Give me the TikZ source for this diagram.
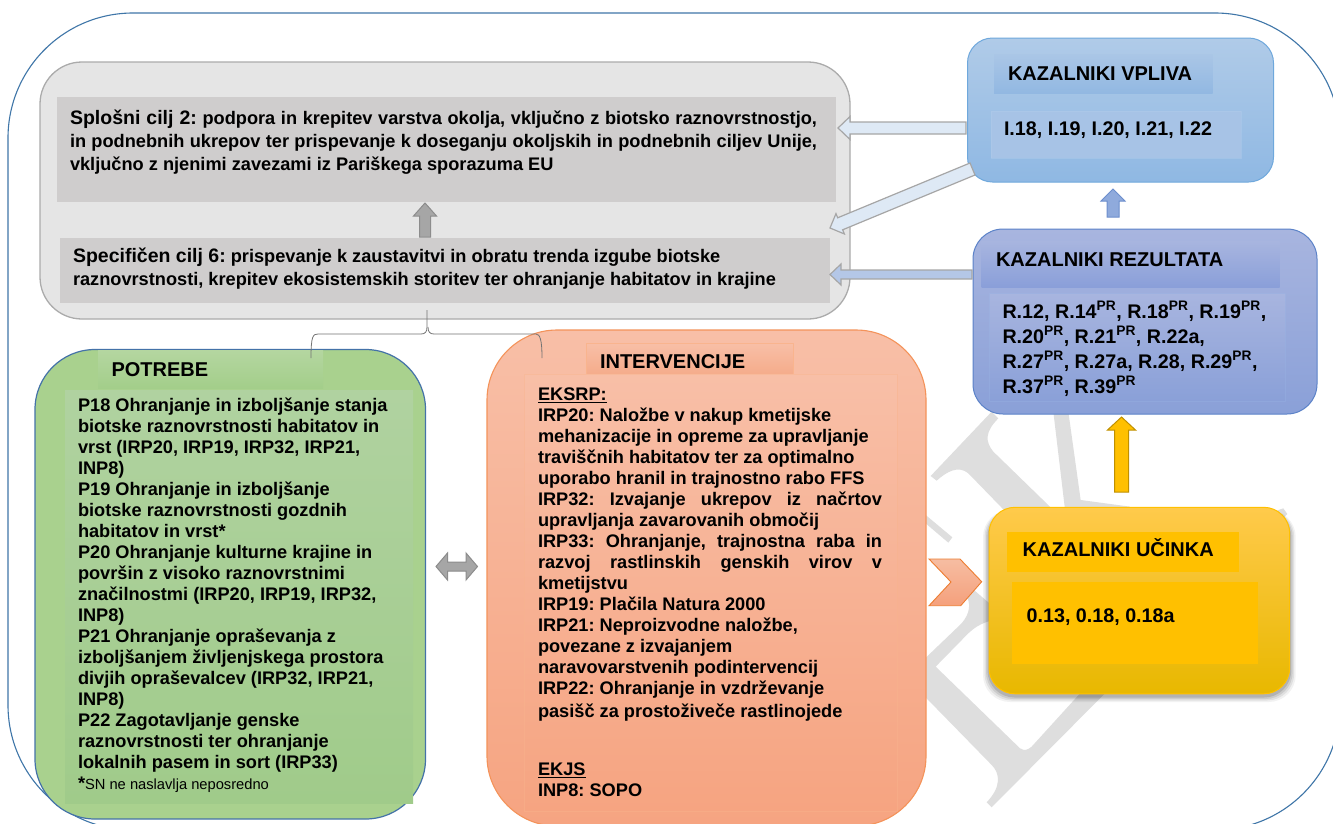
\documentclass[tikz,border=0pt]{standalone}
\usepackage{fontspec}
\setmainfont{Liberation Sans}
\usetikzlibrary{calc}
\frenchspacing
\definecolor{wm}{HTML}{DEDEDE}
\definecolor{frame}{HTML}{3F76A8}
\definecolor{pbdr}{HTML}{F4935A}
\definecolor{pbdrl}{HTML}{F9B48E}
\definecolor{gbdr}{HTML}{4472A8}
\definecolor{vbdr}{HTML}{6FA8DC}
\definecolor{vtop}{HTML}{B0CBE8}
\definecolor{vbot}{HTML}{8FB8E3}
\definecolor{vhtop}{HTML}{AAC6E6}
\definecolor{vhbot}{HTML}{92B8E2}
\definecolor{vbf}{HTML}{A7C3E6}
\definecolor{vbd}{HTML}{AFCBEB}
\definecolor{rbdr}{HTML}{5B82C8}
\definecolor{rtop}{HTML}{A8B5DF}
\definecolor{rbot}{HTML}{8AA0D8}
\definecolor{rhbot}{HTML}{8A9FD9}
\definecolor{rbd}{HTML}{96AFE1}
\definecolor{paleA}{HTML}{DEE9F5}
\definecolor{paleB}{HTML}{B4C7E7}
\definecolor{a5d}{HTML}{6C8ECD}
\definecolor{a5f}{HTML}{8FAADC}
\definecolor{a6d}{HTML}{BF9000}
\definecolor{amber}{HTML}{FFC000}
\definecolor{ytop}{HTML}{FFCA4B}
\definecolor{ybot}{HTML}{E8B800}
\definecolor{gfill}{HTML}{A9D18E}
\definecolor{ghtop}{HTML}{B4D6A0}
\definecolor{ghbot}{HTML}{A3CE8A}
\definecolor{gbtop}{HTML}{B0D2A0}
\definecolor{gbbot}{HTML}{A0CB8A}
\definecolor{ptop}{HTML}{F8BFA7}
\definecolor{pbot}{HTML}{F6A481}
\definecolor{phbot}{HTML}{F5AC8B}
\definecolor{chd}{HTML}{ED7D31}
\definecolor{chtop}{HTML}{F6BDA2}
\definecolor{chbot}{HTML}{F5A07C}
\definecolor{cg}{HTML}{CFCDCD}
\tikzset{
  box/.style={draw,inner sep=0pt,outer sep=0pt,anchor=north west,rounded corners=#1},
  panel/.style={inner sep=0pt,outer sep=0pt,anchor=north west},
  txt/.style={inner sep=0pt,outer sep=0pt,anchor=north west,align=left,font=\fontsize{18.2}{21}\selectfont\bfseries,execute at begin node={\rule{0pt}{18pt}}},
  bigtxt/.style={txt,font=\fontsize{19.7}{25}\selectfont\bfseries},
  headtxt/.style={txt,font=\fontsize{20}{21}\selectfont\bfseries},
  bracket/.style={draw=black!55,line width=0.8pt},
  greyarrow/.style={draw=black!45,fill=black!35,line width=1pt},
  palearrow/.style={draw=black!35,fill=#1,line width=1.2pt},
}
% \blockarrow{style}{from}{to}{half shaft}{half head}{head length}
\newcommand\blockarrow[6]{%
  \coordinate (hb) at ($(#3)!#6!(#2)$);
  \draw[#1,line join=miter] ($(#2)!#4!90:(#3)$) -- ($(hb)!#4!90:(#3)$) -- ($(hb)!#5!90:(#3)$) -- (#3)
    -- ($(hb)!#5!-90:(#3)$) -- ($(hb)!#4!-90:(#3)$) -- ($(#2)!#4!-90:(#3)$) -- cycle;
}
\newcommand\prsup{\textsuperscript{PR}}
\newcommand\jl[1]{\makebox[344pt][s]{#1}}
\newcommand\jw[1]{\makebox[747pt][s]{#1}}
\newcommand\lead[1]{{\fontsize{19.5}{23}\selectfont #1}}
\begin{document}
\begin{tikzpicture}[x=1pt,y=-1pt,line join=round]
\useasboundingbox (0,0) rectangle (1333,823);
\clip (0,0) rectangle (1333,823);
\fill[white] (0,0) rectangle (1333,823);
% watermark
\begin{scope}[shift={(890,390)},x=0.3333pt,y=-0.3333pt]
\fill[wm] (122,258) -- (305,65) -- (325,85) .. controls (285,125) and (285,155) .. (310,185) -- (490,360) -- (400,420) -- (235,250) .. controls (205,225) and (170,245) .. (140,272) -- cycle;
\fill[wm] (490,65) -- (535,65) -- (572,330) -- (720,350) -- (720,400) -- (530,400) -- cycle;
\fill[wm] (95,365) -- (187,442) -- (175,458) -- (95,390) -- cycle;
\fill[wm] (95,815) -- (215,700) .. controls (240,670) and (245,640) .. (225,610) -- (240,590) -- (310,650) -- (310,690) .. controls (270,700) and (250,715) .. (230,735) -- (137,830) -- (390,1075) .. controls (405,1085) and (415,1078) .. (425,1070) -- (575,905) -- (650,905) -- (305,1252) -- (290,1237) .. controls (335,1190) and (330,1150) .. (305,1125) -- (95,910) -- cycle;
\fill[wm] (1160,362) -- (1180,355) -- (1192,372) -- (1180,385) -- cycle;
\end{scope}
% outer frame
\node[box=125pt,draw=frame,line width=1.1pt,minimum width=1332pt,minimum height=817pt] (outer) at (8,13) {};

% grey objectives panel
\node[box=42pt,draw=black!33,fill=black!10,line width=1.3pt,minimum width=810pt,minimum height=257pt] (ciljbox) at (40,62) {};
\node[panel,fill=cg,minimum width=779pt,minimum height=105pt] (cilj2) at (57,97) {};
\node[panel,fill=cg,minimum width=770pt,minimum height=65pt] (cilj6) at (60,237.5) {};
\node[txt] (cilj2t) at (70,109.5) {\jw{\lead{Splošni cilj 2:} podpora in krepitev varstva okolja, vključno z biotsko raznovrstnostjo,}\\[2pt]
\jw{in podnebnih ukrepov ter prispevanje k doseganju okoljskih in podnebnih ciljev Unije,}\\[2pt]
vključno z njenimi zavezami iz Pariškega sporazuma EU};
\node[txt] (cilj6t) at (73,247.5) {\lead{Specifičen cilj 6:} prispevanje k zaustavitvi in obratu trenda izgube biotske\\[2pt]
raznovrstnosti, krepitev ekosistemskih storitev ter ohranjanje habitatov in krajine};
\coordinate (a1s) at (425,237);
\coordinate (a1e) at (425,203);
\blockarrow{greyarrow}{a1s}{a1e}{5.5pt}{11.5pt}{13pt}

% VPLIVA
\node[box=25pt,draw=vbdr,top color=vtop,bottom color=vbot,line width=1pt,minimum width=306pt,minimum height=144pt] (vpliva) at (967.5,38) {};
\node[panel,top color=vhtop,bottom color=vhbot,minimum width=218.5pt,minimum height=39pt] (vplivah) at (994,54) {};
\node[panel,fill=vbf,draw=vbd,draw opacity=.5,minimum width=250pt,minimum height=47pt] (vplivab) at (991,111) {};
\node[headtxt] (vplivat) at (1008,62.5) {KAZALNIKI VPLIVA};
\node[bigtxt] (vplivabt) at (1004,117.5) {I.18, I.19, I.20, I.21, I.22};

% REZULTATA
\node[box=30pt,draw=rbdr,top color=rtop,bottom color=rbot,line width=1pt,minimum width=344pt,minimum height=185pt] (rez) at (973,229) {};
\node[panel,top color=rtop,bottom color=rhbot,minimum width=298pt,minimum height=46pt] (rezh) at (981.5,241) {};
\node[panel,top color=rtop,bottom color=rbot,draw=rbd,draw opacity=.5,minimum width=296.5pt,minimum height=108pt] (rezb) at (989,293) {};
\node[headtxt] (rezt) at (996,248.5) {KAZALNIKI REZULTATA};
\node[bigtxt] (rezbt) at (1002.5,301.5) {R.12, R.14\prsup, R.18\prsup, R.19\prsup,\\
R.20\prsup, R.21\prsup, R.22a,\\
R.27\prsup, R.27a, R.28, R.29\prsup,\\
R.37\prsup, R.39\prsup};

% arrows on the right
\coordinate (a2s) at (966,128);
\coordinate (a2e) at (838,128);
\blockarrow{palearrow=paleA}{a2s}{a2e}{6pt}{11.5pt}{12pt}
\coordinate (a3s) at (972.5,169);
\coordinate (a3e) at (830,228);
\blockarrow{palearrow=paleA}{a3s}{a3e}{6.5pt}{11pt}{11pt}
\coordinate (a4s) at (972,274.5);
\coordinate (a4e) at (830,274.5);
\blockarrow{palearrow=paleB}{a4s}{a4e}{4.5pt}{10.5pt}{11pt}
\coordinate (a5s) at (1113,217);
\coordinate (a5e) at (1113,189);
\blockarrow{draw=a5d,fill=a5f,line width=1pt}{a5s}{a5e}{6pt}{12pt}{12pt}
\coordinate (a6s) at (1121.5,492);
\coordinate (a6e) at (1121.5,417);
\blockarrow{draw=a6d,fill=amber,line width=1pt}{a6s}{a6e}{7pt}{14pt}{13pt}

% UCINKA
\foreach \e/\o in {6/.05,4.5/.07,3/.09,1.5/.12}{
  \fill[black,opacity=\o,rounded corners=27pt] (989-\e,510) rectangle (1289.7+\e,696+\e);
}
\node[box=26pt,draw=amber,top color=ytop,middle color=amber,bottom color=ybot,line width=1pt,minimum width=300.7pt,minimum height=186.5pt] (ucinka) at (989,507.3) {};
\node[panel,fill=amber,minimum width=232pt,minimum height=40pt] (ucinkah) at (1007,531.7) {};
\node[panel,fill=amber,minimum width=246.3pt,minimum height=82pt] (ucinkab) at (1011.7,582) {};
\node[headtxt] (ucinkat) at (1022.7,538.5) {KAZALNIKI UČINKA};
\node[bigtxt] (ucinkabt) at (1026.7,604.5) {0.13, 0.18, 0.18a};

% POTREBE
\node[box=60pt,draw=gbdr,fill=gfill,line width=1.2pt,minimum width=390.5pt,minimum height=469.5pt] (potrebe) at (35,349.5) {};
\node[panel,top color=ghtop,bottom color=ghbot,minimum width=225pt,minimum height=37.5pt] (potrebeh) at (98,350.7) {};
\node[panel,top color=gbtop,bottom color=gbbot,minimum width=348pt,minimum height=413pt] (potrebeb) at (65,390) {};
\node[headtxt] (potrebet) at (111.5,358.5) {POTREBE};
\node[txt] (potrebebt) at (78,397.5) {P18 Ohranjanje in izboljšanje stanja\\
biotske raznovrstnosti habitatov in\\
vrst (IRP20, IRP19, IRP32, IRP21,\\
INP8)\\
P19 Ohranjanje in izboljšanje\\
biotske raznovrstnosti gozdnih\\
habitatov in vrst*\\
P20 Ohranjanje kulturne krajine in\\
površin z visoko raznovrstnimi\\
značilnostmi (IRP20, IRP19, IRP32,\\
INP8)\\
P21 Ohranjanje opraševanja z\\
izboljšanjem življenjskega prostora\\
divjih opraševalcev (IRP32, IRP21,\\
INP8)\\
P22 Zagotavljanje genske\\
raznovrstnosti ter ohranjanje\\
lokalnih pasem in sort (IRP33)\\
*{\fontsize{14.7}{21}\selectfont\mdseries SN ne naslavlja neposredno}};

% INTERVENCIJE
\node[box=70pt,draw=pbdr,top color=ptop,bottom color=pbot,line width=1.1pt,minimum width=439pt,minimum height=496pt] (interv) at (487,330) {};
\node[panel,top color=ptop,bottom color=phbot,draw=pbdrl,minimum width=206.7pt,minimum height=31pt] (intervh) at (586,343) {};
\node[panel,top color=ptop,bottom color=pbot,draw=pbdrl,draw opacity=.45,minimum width=373pt,minimum height=437pt] (intervb) at (524,374) {};
\node[headtxt] (intervt) at (600,350.5) {INTERVENCIJE};
\node[txt] (intervbt) at (538,387.5) {\underline{EKSRP:}\\
IRP20: Naložbe v nakup kmetijske\\
mehanizacije in opreme za upravljanje\\
travišč{}nih habitatov ter za optimalno\\
uporabo hranil in trajnostno rabo FFS\\
\jl{IRP32: Izvajanje ukrepov iz načrtov}\\
upravljanja zavarovanih območij\\
\jl{IRP33: Ohranjanje, trajnostna raba in}\\
\jl{razvoj rastlinskih genskih virov v}\\
kmetijstvu\\
IRP19: Plačila Natura 2000\\
IRP21: Neproizvodne naložbe,\\
povezane z izvajanjem\\
naravovarstvenih podintervencij\\
IRP22: Ohranjanje in vzdrževanje\\[2pt]
pasišč za prostoživeče rastlinojede\\[37pt]
\underline{EKJS}\\
INP8: SOPO};

% double arrow
\coordinate (d1) at (436,566.5);
\coordinate (d2) at (477.5,566.5);
\draw[greyarrow,line join=miter] (d1) -- (447.5,553) -- (447.5,562) -- (466,562) -- (466,553) -- (d2) -- (466,580) -- (466,571) -- (447.5,571) -- (447.5,580) -- cycle;

% chevron
\draw[draw=chd,top color=chtop,bottom color=chbot,line width=.9pt,line join=miter] (929,559) -- (960,559) -- (981.7,581.7) -- (960.7,605.7) -- (929,605.7) -- (951,582) -- cycle;

% bracket
\coordinate (br0) at (427,310);
\coordinate (brl) at (311,358);
\coordinate (brr) at (542,358);
\draw[bracket] (br0) -- (427,327) .. controls (427,332) and (425,334) .. (421,334) -- (318,334) .. controls (313,334) and (311,336) .. (brl);
\draw[bracket] (428,327) .. controls (428,332) and (430,334) .. (434,334) -- (536,334) .. controls (540,334) and (542,340) .. (brr);
\end{tikzpicture}
\end{document}
